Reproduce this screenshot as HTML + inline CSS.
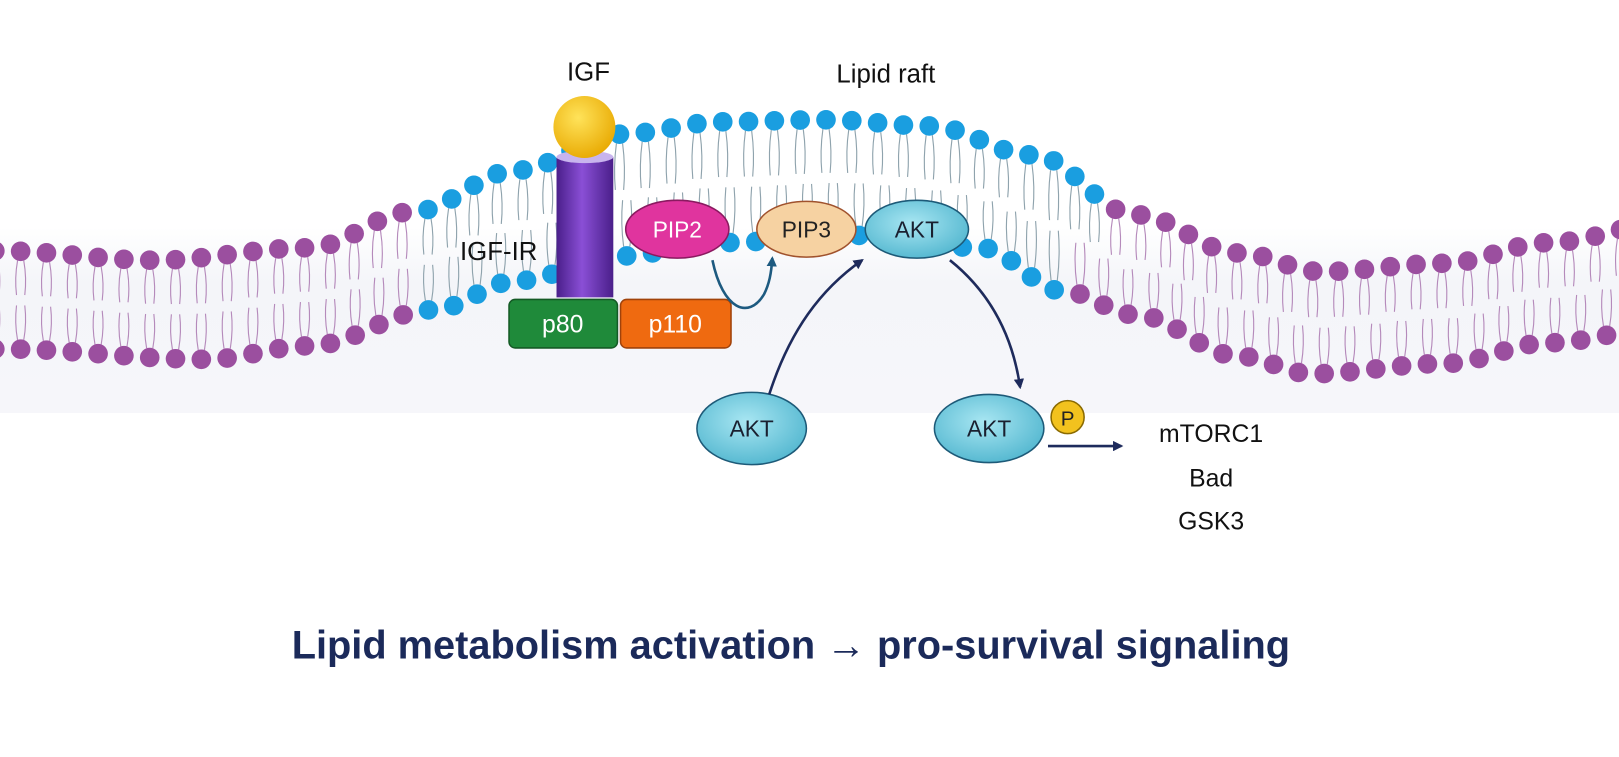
<!DOCTYPE html>
<html><head><meta charset="utf-8"><style>
html,body{margin:0;padding:0;background:#fff}
svg{display:block}
text{font-family:"Liberation Sans",sans-serif}
</style></head><body>
<svg id="s" width="1619" height="757" viewBox="0 0 1619 757" xmlns="http://www.w3.org/2000/svg">
<defs>
<linearGradient id="band" x1="0" y1="0" x2="0" y2="1"><stop offset="0" stop-color="#fff"/><stop offset="0.3" stop-color="#f4f5f9"/><stop offset="1" stop-color="#f6f6fa"/></linearGradient>
<linearGradient id="cyl" x1="0" x2="1"><stop offset="0" stop-color="#4a1f8a"/><stop offset="0.45" stop-color="#8a4fd6"/><stop offset="1" stop-color="#4a1f8a"/></linearGradient>
<radialGradient id="ball" cx="0.4" cy="0.35" r="0.7"><stop offset="0" stop-color="#ffe35a"/><stop offset="1" stop-color="#e8a800"/></radialGradient>
<radialGradient id="akt" cx="0.45" cy="0.4" r="0.7"><stop offset="0" stop-color="#a8e6f2"/><stop offset="1" stop-color="#4ab2cc"/></radialGradient>
<marker id="ah" markerWidth="10" markerHeight="10" refX="8" refY="5" orient="auto" markerUnits="userSpaceOnUse"><path d="M0,0 L10,5 L0,10 z" fill="#1e2b5c"/></marker>
<marker id="ah2" markerWidth="10" markerHeight="10" refX="8" refY="5" orient="auto" markerUnits="userSpaceOnUse"><path d="M0,0 L10,5 L0,10 z" fill="#1d5a80"/></marker>
</defs>
<g transform="scale(1.0325)">
<rect x="0" y="220" width="1619" height="180" fill="url(#band)"/>
<g id="mem"></g>
<rect x="539" y="152" width="55" height="136" fill="url(#cyl)"/>
<ellipse cx="566.5" cy="152" rx="27.5" ry="6" fill="#c8b4ee"/>
<circle cx="566" cy="123" r="30" fill="url(#ball)"/>
<rect x="493" y="290" width="105" height="47" rx="6" fill="#1f8a3a" stroke="#145a25" stroke-width="1.5"/>
<rect x="601" y="290" width="107" height="47" rx="6" fill="#ef6a10" stroke="#a0420a" stroke-width="1.5"/>
<text x="545" y="322" font-size="24" fill="#fff" text-anchor="middle">p80</text>
<text x="654" y="322" font-size="24" fill="#fff" text-anchor="middle">p110</text>
<ellipse cx="656" cy="222" rx="50" ry="28" fill="#e0349e" stroke="#8a1a60" stroke-width="1.5"/>
<text x="656" y="230" font-size="22" fill="#fff" text-anchor="middle">PIP2</text>
<ellipse cx="781" cy="222" rx="48" ry="27" fill="#f6d2a2" stroke="#a0522d" stroke-width="1.5"/>
<text x="781" y="230" font-size="22" fill="#222" text-anchor="middle">PIP3</text>
<ellipse cx="888" cy="222" rx="50" ry="28" fill="url(#akt)" stroke="#1d5a78" stroke-width="1.5"/>
<text x="888" y="230" font-size="22" fill="#1a2030" text-anchor="middle">AKT</text>
<ellipse cx="728" cy="415" rx="53" ry="35" fill="url(#akt)" stroke="#1d5a78" stroke-width="1.5"/>
<text x="728" y="423" font-size="22" fill="#1a2030" text-anchor="middle">AKT</text>
<ellipse cx="958" cy="415" rx="53" ry="33" fill="url(#akt)" stroke="#1d5a78" stroke-width="1.5"/>
<text x="958" y="423" font-size="22" fill="#1a2030" text-anchor="middle">AKT</text>
<circle cx="1034" cy="404" r="16" fill="#f2c21e" stroke="#8a6a00" stroke-width="1.5"/>
<text x="1034" y="412" font-size="20" fill="#222" text-anchor="middle">P</text>
<path d="M690,252 C700,300 725,310 740,285 C745,275 747,265 748,250" fill="none" stroke="#1d5a80" stroke-width="2.5" marker-end="url(#ah2)"/>
<path d="M745,382 C765,320 795,280 835,252" fill="none" stroke="#1e2b5c" stroke-width="2.5" marker-end="url(#ah)"/>
<path d="M920,252 C955,280 980,320 988,375" fill="none" stroke="#1e2b5c" stroke-width="2.5" marker-end="url(#ah)"/>
<path d="M1015,432 L1086,432" fill="none" stroke="#1e2b5c" stroke-width="2.5" marker-end="url(#ah)"/>
<text x="570" y="78" font-size="25" fill="#111" text-anchor="middle">IGF</text>
<text x="858" y="80" font-size="25" fill="#111" text-anchor="middle">Lipid raft</text>
<text x="483" y="252" font-size="25" fill="#111" text-anchor="middle">IGF-IR</text>
<text x="1173" y="428" font-size="24" fill="#111" text-anchor="middle">mTORC1</text>
<text x="1173" y="471" font-size="24" fill="#111" text-anchor="middle">Bad</text>
<text x="1173" y="513" font-size="24" fill="#111" text-anchor="middle">GSK3</text>
<text x="766" y="638" font-size="38.5" font-weight="bold" fill="#1b2a5a" text-anchor="middle">Lipid metabolism activation → pro-survival signaling</text>
</g>
</svg>
<script>
(function(){
var T=[[0,243],[150,252],[300,240],[400,205],[500,165],[600,130],[700,118],[800,116],[900,122],[1000,150],[1100,208],[1200,245],[1280,263],[1400,255],[1500,235],[1619,215]];
var B=[[0,338],[200,348],[300,335],[420,300],[500,272],[600,248],[700,235],[830,228],[950,240],[1030,282],[1100,305],[1200,345],[1270,362],[1400,352],[1500,332],[1619,316]];
function f(P,x){for(var i=0;i<P.length-1;i++){if(x<=P[i+1][0]){var t=(x-P[i][0])/(P[i+1][0]-P[i][0]);t=(1-Math.cos(Math.PI*t))/2;return P[i][1]+(P[i+1][1]-P[i][1])*t;}}return P[P.length-1][1];}
var g=document.getElementById('mem'),h='';
function layer(P,isTop,b0,b1){
 var x=-5,px=x,py=f(P,x),acc=0,step=25;
 var pts=[[x,py]];
 for(x=-5;x<1630;x+=0.5){var y=f(P,x);acc+=Math.hypot(x-px,y-py);px=x;py=y;if(acc>=step){acc=0;pts.push([x,y]);}}
 pts.forEach(function(p){
  var x=p[0],y=p[1],th=f(B,x)-f(T,x);var L=th/2-14;var blue=x>=b0&&x<=b1;
  var c=blue?'#1a9ee0':'#9b4f9f',tc=blue?'#8fa3ad':'#b58abb';var d=isTop?1:-1;
  var y0=y+d*9;
  h+='<path d="M'+(x-3)+','+y0+' q-3,'+(d*L/2)+' -1,'+(d*L)+' M'+(x+3)+','+y0+' q3,'+(d*L/2)+' 1,'+(d*L)+'" fill="none" stroke="'+tc+'" stroke-width="1.1"/>';
  h+='<circle cx="'+x+'" cy="'+y+'" r="9.5" fill="'+c+'"/>';
 });
}
layer(T,true,390,1065);layer(B,false,410,1035);
g.innerHTML=h;
})();
</script>
</body></html>
